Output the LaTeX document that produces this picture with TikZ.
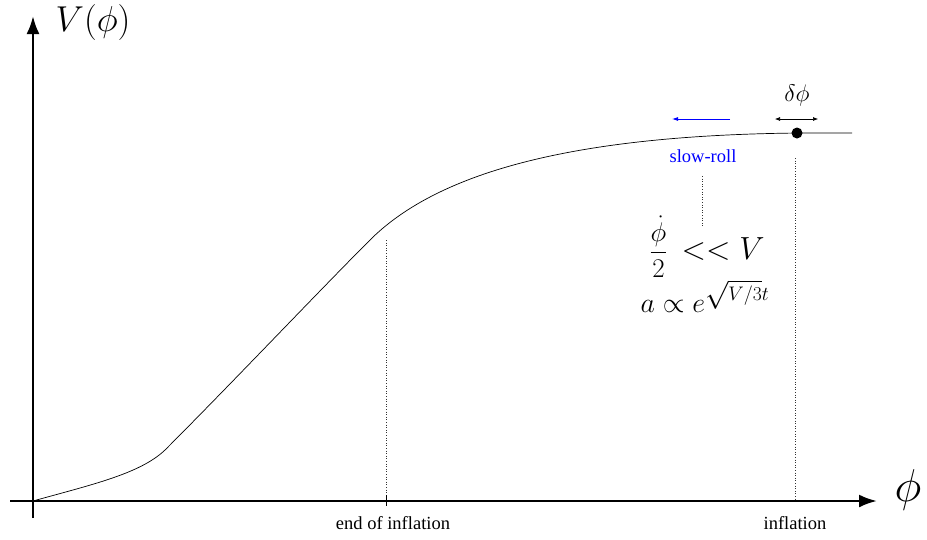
\documentclass[tikz,border=0pt]{standalone}
\usepackage{fix-cm}
\usepackage{amsmath}
\usepackage{amssymb}
\usepackage{fontspec}
\newfontfamily\labelfont{Liberation Serif}
\usetikzlibrary{arrows.meta}

\begin{document}
\begin{tikzpicture}[x=1pt, y=-1pt,
    axis/.style={line width=2.6pt, -{Latex[length=18pt, width=13pt]}},
    guide/.style={dotted, line width=0.6pt, black!80},
    tag/.style={font=\labelfont\fontsize{18.5}{20}\selectfont, inner sep=0pt}]
    \useasboundingbox (0,0) rectangle (927,539);

    \coordinate (o) at (33,501);
    \coordinate (xend) at (877,501);
    \coordinate (yend) at (33,16);
    \coordinate (end) at (386,501);
    \coordinate (start) at (795,501);
    \coordinate (ball) at (797,133);

    % axes
    \draw[axis] (10,501) -- (xend);
    \draw[axis] (33,518) -- (yend);
    \node[font=\fontsize{36}{40}\selectfont] (vlab) at (93,22) {$V(\phi)$};
    \node[font=\fontsize{46}{50}\selectfont] (philab) at (908,490) {$\phi$};

    % potential
    \draw[line width=0.7pt] (o) .. controls (90,485) and (140,474) .. (165,450)
        .. controls (230,385) and (320,290) .. (370,240)
        .. controls (440,170) and (580,135) .. (800,133) -- (852,133);

    % end of inflation
    \draw[guide] (386,240) -- (end);
    \draw[line width=0.6pt] (386,495) -- (386,506);
    \node[tag] (endlab) at (393,523) {end of inflation};

    % inflation
    \draw[guide] (795,158) -- (start);
    \node[tag] (inflab) at (795,523) {inflation};
    \fill (ball) circle (5.5);
    \node[font=\fontsize{24}{26}\selectfont] (dphi) at (797,95) {$\delta\phi$};
    \coordinate (dl) at (775,119);
    \coordinate (dr) at (818,119);
    \draw[<->, >={Latex[length=5pt, width=4pt]}, line width=0.6pt] (dl) -- (dr);

    % slow-roll
    \coordinate (sr1) at (730,119);
    \coordinate (sr2) at (672,119);
    \draw[blue, line width=0.8pt, -{Latex[length=6pt, width=4pt]}] (sr1) -- (sr2);
    \node[tag, blue] (srlab) at (703,156) {slow-roll};
    \coordinate (sr3) at (702,226);
    \draw[guide] (702,176) -- (sr3);

    \node[inner sep=0pt] (cond) at (707,247)
        {\fontsize{27}{30}\selectfont$\dfrac{\dot\phi}{2}$\fontsize{32}{36}\selectfont$\;\,<< V$};
    \node[font=\fontsize{28}{32}\selectfont, inner sep=0pt, anchor=base] (scale) at (705,312) {$a \propto e^{\sqrt{V/3}t}$};
\end{tikzpicture}
\end{document}
